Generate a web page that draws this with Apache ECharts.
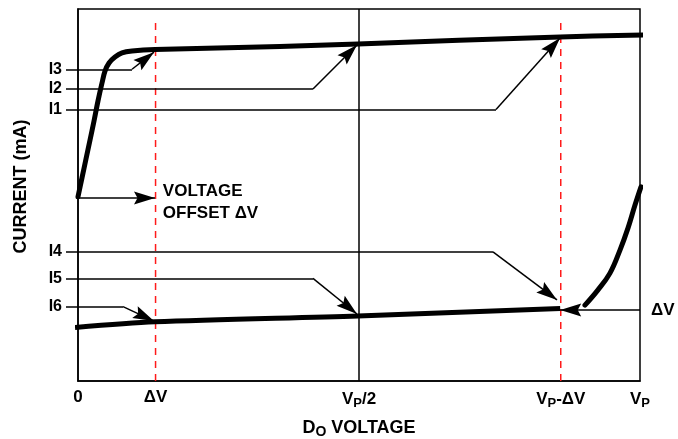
<!DOCTYPE html>
<html>
<head>
<meta charset="utf-8">
<script src="https://cdn.jsdelivr.net/npm/echarts@6/dist/echarts.min.js"></script>
<style>html,body{margin:0;padding:0;background:#fff}#c{width:678px;height:439px}</style>
</head>
<body>
<div id="c"></div>
<script>
// X in units of Vp (0..1), Y current in arbitrary units (0..100)
const xTickValues = [0, 0.138, 0.5, 0.859, 1];
const xTickLabels = ['0', 'ΔV', 'V{s|P}/2', 'V{s|P}-ΔV', 'V{s|P}'];
const currentLevels = [73.0, 78.5, 83.8, 34.7, 27.6, 20.0];
const currentNames = ['I1', 'I2', 'I3', 'I4', 'I5', 'I6'];
const leaderStartX = -0.0214;
const leaderBendX = [0.7438, 0.4181, 0.0961, 0.7384, 0.4181, 0.0801];
const arrowTipX = [0.8577, 0.4964, 0.1352, 0.8523, 0.4964, 0.1352];
const arrowTipY = [92.2, 90.3, 88.4, 21.8, 18.0, 16.1];
const upperCurveX = [0, 0.0071, 0.0142, 0.0214, 0.0285, 0.0356, 0.0427, 0.048, 0.0552, 0.0658, 0.0783, 0.0961, 0.137, 0.359, 0.498, 0.858, 1.005];
const upperCurveY = [49.5, 54.6, 59.7, 64.8, 69.9, 75.3, 80.1, 83.3, 85.5, 87.1, 88.2, 88.7, 89.1, 89.9, 90.6, 92.5, 93.0];
const lowerCurveX = [-0.0053, 0.137, 0.498, 0.858];
const lowerCurveY = [14.4, 15.9, 17.5, 19.5];
const riseCurveX = [0.9021, 0.9253, 0.9466, 0.9644, 0.9786, 0.9911, 1.0018];
const riseCurveY = [20.4, 24.5, 29.0, 35.2, 41.1, 47.3, 52.2];
const dashX = [0.138, 0.859];
const dashTopY = 97.6;
const offsetY = 49.2;
const offsetTipX = 0.137;
const dvArrowY = 19.1;
const dvArrowTipX = 0.858;
const offsetTextPos = [0.151, 48.1];
const dvTextPos = [1.0196, 19.1];

const FONT = "'Liberation Sans', Arial, Helvetica, sans-serif";
const zip = (xs, ys) => xs.map((x, i) => [x, ys[i]]);
const ARROW = 'path://M0,0 L6.5,21 L0,17.5 L-6.5,21 Z';
const ARROW_LEN = 21, ARROW_W = 13;

const horizontals = currentLevels.map((y, i) => ({coords: [[leaderStartX, y], [leaderBendX[i], y]]}));
const diagonals = currentLevels.map((y, i) => ({coords: [[leaderBendX[i], y], [arrowTipX[i], arrowTipY[i]]]}));
diagonals.push({coords: [[0, offsetY], [offsetTipX, offsetY]]});
diagonals.push({coords: [[1, dvArrowY], [dvArrowTipX, dvArrowY]]});

const chart = echarts.init(document.getElementById('c'), null, {renderer: 'canvas'});
const thin = {color: '#000', width: 1.5};
const textLabel = {show: true, position: [0, 0], align: 'left', verticalAlign: 'middle', fontSize: 17, fontWeight: 'bold', color: '#000', opacity: 1, fontFamily: FONT};
const option = {
  animation: false,
  backgroundColor: '#fff',
  textStyle: {fontFamily: FONT},
  grid: {left: 78, right: 38, top: 9, bottom: 58, show: true, borderColor: '#000', borderWidth: 1.5, containLabel: false, outerBoundsMode: 'none'},
  xAxis: {
    type: 'value', min: 0, max: 1,
    name: 'D{s|O} VOLTAGE', nameLocation: 'middle', nameGap: 36,
    nameTextStyle: {fontSize: 18, fontWeight: 'bold', color: '#000', fontFamily: FONT,
      rich: {s: {fontSize: 14, fontWeight: 'bold', color: '#000', padding: [8, 0, 0, 0], fontFamily: FONT}}},
    axisLine: {show: true, lineStyle: thin},
    axisTick: {show: false},
    splitLine: {show: false},
    axisLabel: {
      customValues: xTickValues, margin: 8, fontSize: 17, fontWeight: 'bold', color: '#000', fontFamily: FONT,
      formatter: v => { const i = xTickValues.findIndex(t => Math.abs(t - v) < 1e-6); return i >= 0 ? xTickLabels[i] : ''; },
      rich: {s: {fontSize: 13, fontWeight: 'bold', color: '#000', padding: [8, 0, 0, 0], fontFamily: FONT}}
    }
  },
  yAxis: {
    type: 'value', min: 0, max: 100,
    name: 'CURRENT (mA)', nameLocation: 'middle', nameGap: 48, nameRotate: 90,
    nameTextStyle: {fontSize: 18, fontWeight: 'bold', color: '#000', fontFamily: FONT, padding: [0, 0, 0, 17]},
    axisLine: {show: true, lineStyle: thin},
    axisTick: {show: false},
    splitLine: {show: false},
    axisLabel: {
      customValues: currentLevels, margin: 16, fontSize: 16, fontWeight: 'bold', color: '#000', fontFamily: FONT,
      formatter: v => { const i = currentLevels.findIndex(t => Math.abs(t - v) < 1e-6); return i >= 0 ? currentNames[i] : ''; }
    }
  },
  series: [
    {type: 'line', data: [[0.5, 0], [0.5, 100]], showSymbol: false, lineStyle: thin, silent: true, z: 1},
    {type: 'line', data: [[dashX[0], 0], [dashX[0], dashTopY]], showSymbol: false, lineStyle: {color: '#ff1a1a', width: 1.5, type: [7, 6]}, z: 1},
    {type: 'line', data: [[dashX[1], 0], [dashX[1], dashTopY]], showSymbol: false, lineStyle: {color: '#ff1a1a', width: 1.5, type: [7, 6]}, z: 1},
    {type: 'line', data: zip(upperCurveX, upperCurveY), showSymbol: false, smooth: 0.35, clip: false, lineStyle: {color: '#000', width: 5, cap: 'round', join: 'round'}, z: 3},
    {type: 'line', data: zip(lowerCurveX, lowerCurveY), showSymbol: false, smooth: 0.3, clip: false, lineStyle: {color: '#000', width: 5, join: 'round'}, z: 3},
    {type: 'line', data: zip(riseCurveX, riseCurveY), showSymbol: false, smooth: 0.4, clip: false, lineStyle: {color: '#000', width: 5, cap: 'round', join: 'round'}, z: 3},
    {type: 'lines', coordinateSystem: 'cartesian2d', clip: false, symbol: ['none', 'none'], lineStyle: {color: '#000', width: 1.5, opacity: 1, curveness: 0}, data: horizontals.concat(diagonals), z: 4},
    {id: 'arrowheads', type: 'scatter', clip: false, silent: true, symbol: ARROW, symbolSize: [ARROW_W, ARROW_LEN], itemStyle: {color: '#000', opacity: 1}, data: [], z: 5},
    {type: 'scatter', symbolSize: 0, clip: false, data: [offsetTextPos], silent: true, itemStyle: {opacity: 1},
      label: Object.assign({}, textLabel, {formatter: 'VOLTAGE\nOFFSET ΔV', lineHeight: 22})},
    {type: 'scatter', symbolSize: 0, clip: false, data: [dvTextPos], silent: true, itemStyle: {opacity: 1},
      label: Object.assign({}, textLabel, {formatter: 'ΔV'})}
  ]
};
chart.setOption(option);

// orient arrowheads along each leader's final segment (in pixel space)
const heads = diagonals.map(d => {
  const p0 = chart.convertToPixel({gridIndex: 0}, d.coords[0]);
  const p1 = chart.convertToPixel({gridIndex: 0}, d.coords[1]);
  let ux = p1[0] - p0[0], uy = p1[1] - p0[1];
  const len = Math.hypot(ux, uy) || 1; ux /= len; uy /= len;
  return {
    value: d.coords[1],
    symbolRotate: Math.atan2(-uy, ux) * 180 / Math.PI - 90,
    symbolOffset: [-ux * ARROW_LEN / 2, -uy * ARROW_LEN / 2]
  };
});
chart.setOption({series: [{id: 'arrowheads', data: heads}]});
</script>
</body>
</html>
